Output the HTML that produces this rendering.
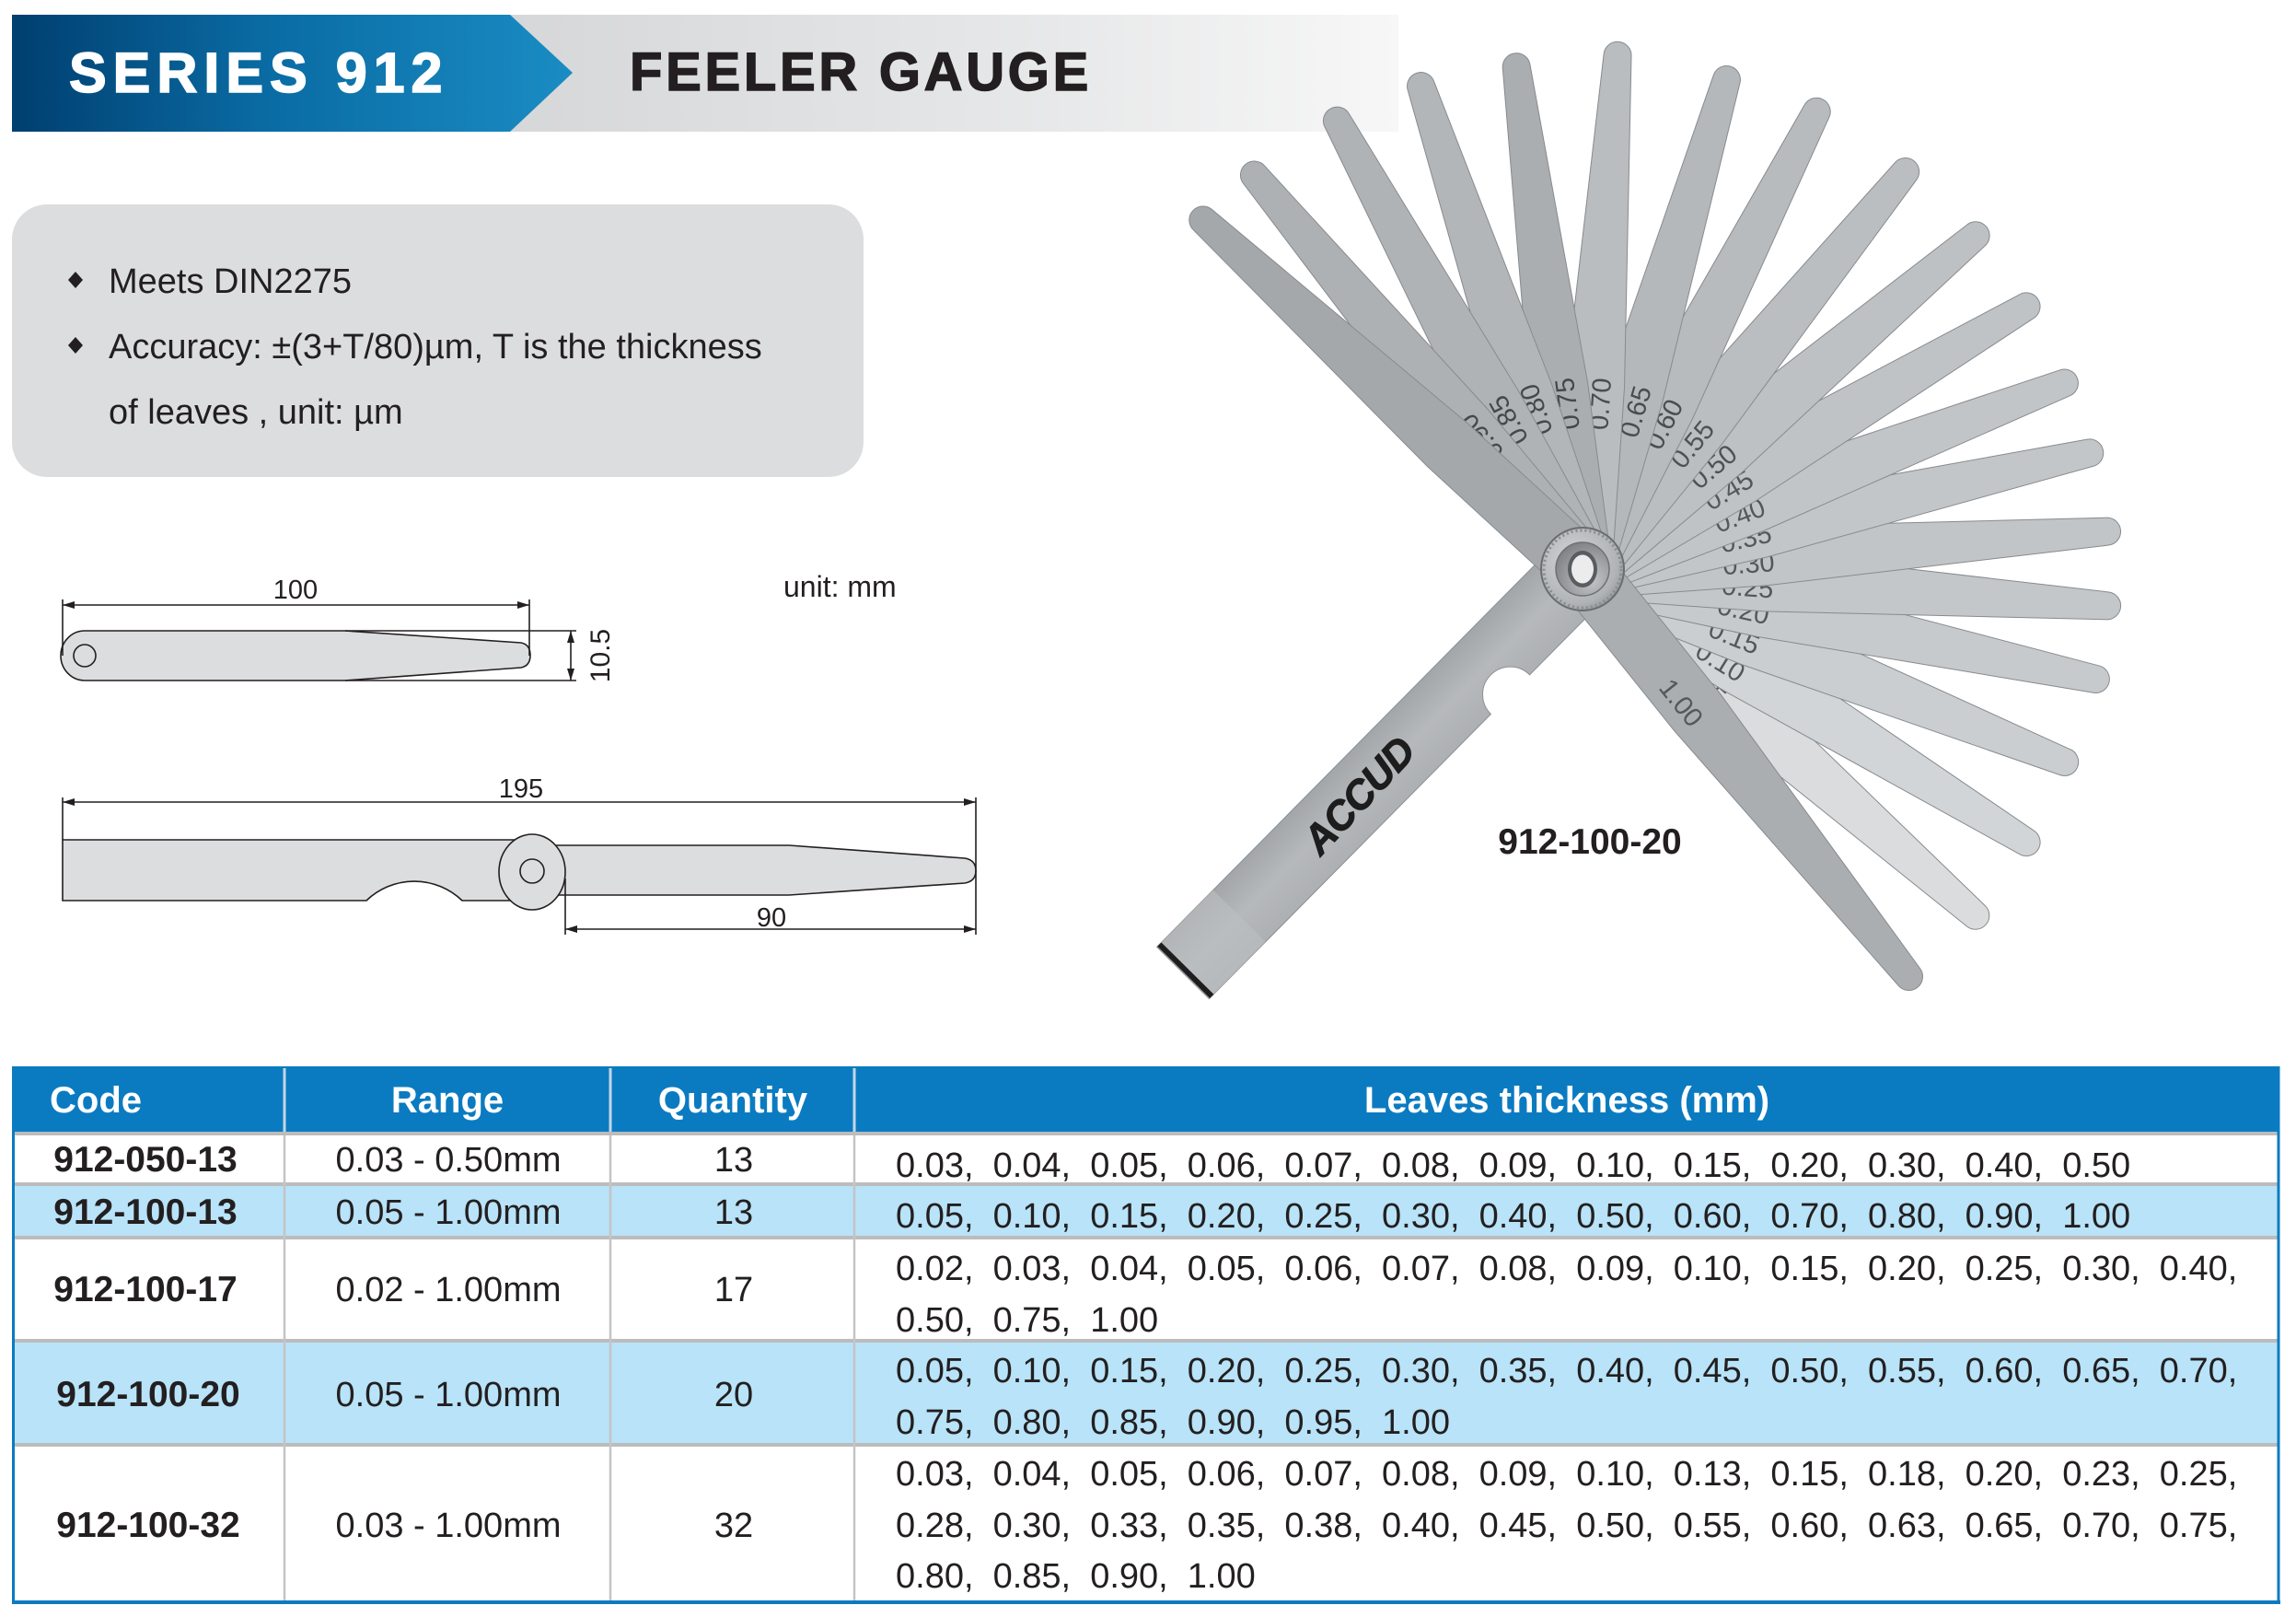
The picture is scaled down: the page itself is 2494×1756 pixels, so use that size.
<!DOCTYPE html>
<html><head><meta charset="utf-8"><style>
html,body{margin:0;padding:0;background:#fff;width:2494px;height:1756px;overflow:hidden}
svg{display:block}
text{font-family:"Liberation Sans",Arial,sans-serif}
</style></head><body>
<svg width="2494" height="1756" viewBox="0 0 2494 1756" xmlns="http://www.w3.org/2000/svg">
<defs>
<linearGradient id="gBlue" x1="13" y1="0" x2="622" y2="0" gradientUnits="userSpaceOnUse">
<stop offset="0" stop-color="#003f70"/><stop offset="0.45" stop-color="#0a6ba3"/><stop offset="1" stop-color="#1a8cc3"/></linearGradient>
<linearGradient id="gGray" x1="554" y1="0" x2="1519" y2="0" gradientUnits="userSpaceOnUse">
<stop offset="0" stop-color="#d6d7d9"/><stop offset="0.6" stop-color="#e7e8e9"/><stop offset="1" stop-color="#f7f7f7"/></linearGradient>
<linearGradient id="gHandle" x1="0" y1="-40" x2="0" y2="40" gradientUnits="userSpaceOnUse">
<stop offset="0" stop-color="#adb0b3"/><stop offset="0.5" stop-color="#b6b9bb"/><stop offset="1" stop-color="#a3a6a9"/></linearGradient>
<radialGradient id="gWash" cx="0.4" cy="0.4" r="0.7">
<stop offset="0" stop-color="#d4d6d8"/><stop offset="0.75" stop-color="#b0b3b6"/><stop offset="1" stop-color="#8a8d90"/></radialGradient>
<radialGradient id="gInner" cx="0.65" cy="0.7" r="0.8">
<stop offset="0" stop-color="#c4c6c8"/><stop offset="1" stop-color="#7a7d80"/></radialGradient>
</defs>

<!-- Header band -->
<rect x="554" y="16" width="965" height="127" fill="url(#gGray)"/>
<polygon points="13,16 554,16 622,79 554,143 13,143" fill="url(#gBlue)"/>
<text x="75" y="100" font-size="61" font-weight="bold" letter-spacing="7" fill="#ffffff" stroke="#ffffff" stroke-width="1.6">SERIES 912</text>
<text x="684" y="98" font-size="58" font-weight="bold" letter-spacing="3.7" fill="#231f20" stroke="#231f20" stroke-width="1.4">FEELER GAUGE</text>

<!-- Feature box -->
<rect x="13" y="222" width="925" height="296" rx="38" ry="38" fill="#dcdddf"/>
<polygon points="82,295 90,304 82,313 74,304" fill="#231f20"/>
<polygon points="82,366 90,375 82,384 74,375" fill="#231f20"/>
<text x="118" y="318" font-size="38" fill="#231f20">Meets DIN2275</text>
<text x="118" y="389" font-size="38" fill="#231f20">Accuracy: ±(3+T/80)µm, T is the thickness</text>
<text x="118" y="460" font-size="38" fill="#231f20">of leaves , unit: µm</text>

<!-- Drawing 1 -->
<g stroke="#231f20" stroke-width="1.6" fill="none">
<path d="M92,685 L375,685 L566,698 Q576,700 576,711.5 Q576,723 566,725 L375,739 L92,739 A26,27 0 0 1 92,685 Z" fill="#dcdddf"/>
<circle cx="92" cy="712" r="12"/>
<line x1="375" y1="685" x2="626" y2="685"/>
<line x1="375" y1="739" x2="626" y2="739"/>
<line x1="68" y1="651" x2="68" y2="712"/>
<line x1="575" y1="651" x2="575" y2="712"/>
<line x1="68" y1="657" x2="575" y2="657"/>
<line x1="620" y1="685" x2="620" y2="739"/>
</g>
<g fill="#231f20">
<path d="M68,657 L81,653 L81,661 Z"/><path d="M575,657 L562,653 L562,661 Z"/>
<path d="M620,685 L616,698 L624,698 Z"/><path d="M620,739 L616,726 L624,726 Z"/>
</g>
<text x="321" y="650" font-size="29" text-anchor="middle" fill="#231f20">100</text>
<text transform="translate(662,712) rotate(-90)" font-size="30" text-anchor="middle" fill="#231f20">10.5</text>
<text x="851" y="648" font-size="32" fill="#231f20">unit: mm</text>

<!-- Drawing 2 -->
<g stroke="#231f20" stroke-width="1.6" fill="none">
<path d="M68,912 L590,912 L590,978 L502,978 A75,75 0 0 0 398,978 L68,978 Z" fill="#dcdddf"/>
<path d="M590,918 L857,918 L1048,932 Q1060,934 1060,945.5 Q1060,957 1048,959 L857,972 L590,972 Z" fill="#dcdddf"/>
<ellipse cx="578" cy="947" rx="36" ry="41" fill="#dcdddf"/>
<circle cx="578" cy="946" r="13"/>
<line x1="68" y1="866" x2="68" y2="912"/>
<line x1="1060" y1="866" x2="1060" y2="1015"/>
<line x1="614" y1="954" x2="614" y2="1015"/>
<line x1="68" y1="871" x2="1060" y2="871"/>
<line x1="614" y1="1009" x2="1060" y2="1009"/>
</g>
<g fill="#231f20">
<path d="M68,871 L81,867 L81,875 Z"/><path d="M1060,871 L1047,867 L1047,875 Z"/>
<path d="M614,1009 L627,1005 L627,1013 Z"/><path d="M1060,1009 L1047,1005 L1047,1013 Z"/>
</g>
<text x="566" y="866" font-size="29" text-anchor="middle" fill="#231f20">195</text>
<text x="838" y="1006" font-size="29" text-anchor="middle" fill="#231f20">90</text>

<!-- Fan: handle -->
<g transform="translate(1719,618) rotate(134.7)">
<path d="M-40,-40 L122,-40 A30,30 0 0 0 182,-40 L617,-40 L617,40 L-40,40 Z" fill="url(#gHandle)" stroke="#8d9093" stroke-width="1"/>
<rect x="530" y="-40" width="82" height="80" fill="#bcbfc1" opacity="0.6"/>
<line x1="613" y1="-40" x2="613" y2="40" stroke="#1e1e1e" stroke-width="6"/>
</g>

<!-- Fan: leaves (19 -> 1, then 20) -->
<g stroke="#878b8e" stroke-width="1" font-size="29">
<g transform="translate(1719,618) rotate(41.4)"><path d="M0,-32L200,-32L569,-15A15,15 0 0 1 569,15L200,32L0,32A32,32 0 0 1 0,-32Z" fill="#dadcde"/><text x="152" y="17" fill="#55585b" stroke="none">0.05</text></g>
<g transform="translate(1719,618) rotate(31.6)"><path d="M0,-32L200,-32L566,-15A15,15 0 0 1 566,15L200,32L0,32A32,32 0 0 1 0,-32Z" fill="#d2d5d7"/><text x="152" y="17" fill="#55585b" stroke="none">0.10</text></g>
<g transform="translate(1719,618) rotate(21.8)"><path d="M0,-32L200,-32L564,-15A15,15 0 0 1 564,15L200,32L0,32A32,32 0 0 1 0,-32Z" fill="#cbced0"/><text x="152" y="17" fill="#55585b" stroke="none">0.15</text></g>
<g transform="translate(1719,618) rotate(12.1)"><path d="M0,-32L200,-32L570,-15A15,15 0 0 1 570,15L200,32L0,32A32,32 0 0 1 0,-32Z" fill="#c7cacc"/><text x="152" y="17" fill="#55585b" stroke="none">0.20</text></g>
<g transform="translate(1719,618) rotate(4.0)"><path d="M0,-32L200,-32L571,-15A15,15 0 0 1 571,15L200,32L0,32A32,32 0 0 1 0,-32Z" fill="#c4c7ca"/><text x="152" y="17" fill="#55585b" stroke="none">0.25</text></g>
<g transform="translate(1719,618) rotate(-4.1)"><path d="M0,-32L200,-32L571,-15A15,15 0 0 1 571,15L200,32L0,32A32,32 0 0 1 0,-32Z" fill="#c2c5c8"/><text x="152" y="17" fill="#55585b" stroke="none">0.30</text></g>
<g transform="translate(1719,618) rotate(-12.9)"><path d="M0,-32L200,-32L565,-15A15,15 0 0 1 565,15L200,32L0,32A32,32 0 0 1 0,-32Z" fill="#c3c6c9"/><text x="152" y="17" fill="#55585b" stroke="none">0.35</text></g>
<g transform="translate(1719,618) rotate(-21.1)"><path d="M0,-32L200,-32L561,-15A15,15 0 0 1 561,15L200,32L0,32A32,32 0 0 1 0,-32Z" fill="#c2c5c8"/><text x="152" y="17" fill="#55585b" stroke="none">0.40</text></g>
<g transform="translate(1719,618) rotate(-30.6)"><path d="M0,-32L200,-32L560,-15A15,15 0 0 1 560,15L200,32L0,32A32,32 0 0 1 0,-32Z" fill="#c0c3c6"/><text x="152" y="17" fill="#55585b" stroke="none">0.45</text></g>
<g transform="translate(1719,618) rotate(-40.3)"><path d="M0,-32L200,-32L560,-15A15,15 0 0 1 560,15L200,32L0,32A32,32 0 0 1 0,-32Z" fill="#bdc1c4"/><text x="152" y="17" fill="#4f5255" stroke="none">0.50</text></g>
<g transform="translate(1719,618) rotate(-50.9)"><path d="M0,-32L200,-32L556,-15A15,15 0 0 1 556,15L200,32L0,32A32,32 0 0 1 0,-32Z" fill="#babec1"/><text x="152" y="17" fill="#4f5255" stroke="none">0.55</text></g>
<g transform="translate(1719,618) rotate(-62.9)"><path d="M0,-32L200,-32L558,-15A15,15 0 0 1 558,15L200,32L0,32A32,32 0 0 1 0,-32Z" fill="#b7bbbe"/><text x="152" y="17" fill="#4a4d50" stroke="none">0.60</text></g>
<g transform="translate(1719,618) rotate(-73.6)"><path d="M0,-32L200,-32L554,-15A15,15 0 0 1 554,15L200,32L0,32A32,32 0 0 1 0,-32Z" fill="#b4b8bb"/><text x="152" y="17" fill="#4a4d50" stroke="none">0.65</text></g>
<g transform="translate(1719,618) rotate(-86.1)"><path d="M0,-32L200,-32L559,-15A15,15 0 0 1 559,15L200,32L0,32A32,32 0 0 1 0,-32Z" fill="#b9bdc0"/><text x="152" y="17" fill="#4a4d50" stroke="none">0.70</text></g>
<g transform="translate(1719,618) rotate(-97.5)"><path d="M0,-32L200,-32L550,-15A15,15 0 0 1 550,15L200,32L0,32A32,32 0 0 1 0,-32Z" fill="#aaaeb1"/><text x="152" y="17" fill="#45484b" stroke="none">0.75</text></g>
<g transform="translate(1719,618) rotate(-108.5)"><path d="M0,-32L200,-32L553,-15A15,15 0 0 1 553,15L200,32L0,32A32,32 0 0 1 0,-32Z" fill="#b2b6b9"/><text x="152" y="17" fill="#45484b" stroke="none">0.80</text></g>
<g transform="translate(1719,618) rotate(-118.7)"><path d="M0,-32L200,-32L555,-15A15,15 0 0 1 555,15L200,32L0,32A32,32 0 0 1 0,-32Z" fill="#afb3b6"/><text x="152" y="17" fill="#45484b" stroke="none">0.85</text></g>
<g transform="translate(1719,618) rotate(-129.8)"><path d="M0,-32L200,-32L557,-15A15,15 0 0 1 557,15L200,32L0,32A32,32 0 0 1 0,-32Z" fill="#adb1b4"/><text x="152" y="17" fill="#45484b" stroke="none">0.90</text></g>
<g transform="translate(1719,618) rotate(-137.4)"><path d="M0,-32L200,-32L560,-15A15,15 0 0 1 560,15L200,32L0,32A32,32 0 0 1 0,-32Z" fill="#a4a8ab"/></g>
<g transform="translate(1719,618) rotate(51.3)"><path d="M0,-32L200,-32L567,-15A15,15 0 0 1 567,15L200,32L0,32A32,32 0 0 1 0,-32Z" fill="#aaaeb1"/><text x="152" y="17" fill="#55585b" stroke="none">1.00</text></g>
</g>

<!-- Washer -->
<circle cx="1719" cy="618" r="45" fill="url(#gWash)" stroke="#6a6d70" stroke-width="2"/>
<circle cx="1719" cy="618" r="42" fill="none" stroke="#8a8d90" stroke-width="3" stroke-dasharray="2 3"/>
<circle cx="1719" cy="618" r="29" fill="url(#gInner)" stroke="#6f7275" stroke-width="1.5"/>
<ellipse cx="1719" cy="618" rx="16" ry="20" fill="#5a5d60"/>
<ellipse cx="1719" cy="618" rx="12" ry="15.5" fill="#ececec"/>

<text transform="translate(1476,864) rotate(-47)" y="15" font-size="44" font-weight="bold" font-style="italic" text-anchor="middle" letter-spacing="-1" fill="#1d1d1d" stroke="#1d1d1d" stroke-width="1">ACCUD</text>
<text x="1727" y="927" font-size="39" font-weight="bold" text-anchor="middle" fill="#231f20">912-100-20</text>

<!-- Table -->
<rect x="13" y="1158" width="2463" height="72" fill="#0b7bc1"/>
<rect x="13" y="1230" width="2463" height="56" fill="#ffffff"/>
<rect x="13" y="1286" width="2463" height="58" fill="#b8e3f8"/>
<rect x="13" y="1344" width="2463" height="112" fill="#ffffff"/>
<rect x="13" y="1456" width="2463" height="113" fill="#b8e3f8"/>
<rect x="13" y="1569" width="2463" height="170" fill="#ffffff"/>
<g stroke="#bcbcbc" stroke-width="4">
<line x1="13" y1="1231" x2="2476" y2="1231"/>
<line x1="13" y1="1286" x2="2476" y2="1286"/>
<line x1="13" y1="1344" x2="2476" y2="1344"/>
<line x1="13" y1="1456" x2="2476" y2="1456"/>
<line x1="13" y1="1569" x2="2476" y2="1569"/>
</g>
<g stroke="#c4d6e6" stroke-width="3">
<line x1="309" y1="1160" x2="309" y2="1229"/>
<line x1="663" y1="1160" x2="663" y2="1229"/>
<line x1="928" y1="1160" x2="928" y2="1229"/>
</g>
<g stroke="#c4c4c4" stroke-width="2.5">
<line x1="309" y1="1233" x2="309" y2="1739"/>
<line x1="663" y1="1233" x2="663" y2="1739"/>
<line x1="928" y1="1233" x2="928" y2="1739"/>
</g>
<g stroke="#0b7bc1" fill="none">
<line x1="14.5" y1="1158" x2="14.5" y2="1742" stroke-width="3"/>
<line x1="2475" y1="1158" x2="2475" y2="1742" stroke-width="3"/>
<line x1="13" y1="1740" x2="2477" y2="1740" stroke-width="4"/>
</g>

<g font-size="40" font-weight="bold" fill="#ffffff">
<text x="54" y="1208">Code</text>
<text x="486" y="1208" text-anchor="middle">Range</text>
<text x="796" y="1208" text-anchor="middle">Quantity</text>
<text x="1702" y="1208" text-anchor="middle">Leaves thickness (mm)</text>
</g>

<g font-size="39" font-weight="bold" fill="#231f20" text-anchor="middle">
<text x="158" y="1272">912-050-13</text>
<text x="158" y="1329">912-100-13</text>
<text x="158" y="1413">912-100-17</text>
<text x="161" y="1527">912-100-20</text>
<text x="161" y="1669">912-100-32</text>
</g>
<g font-size="38" fill="#231f20" text-anchor="middle">
<text x="487" y="1272">0.03 - 0.50mm</text>
<text x="487" y="1329">0.05 - 1.00mm</text>
<text x="487" y="1413">0.02 - 1.00mm</text>
<text x="487" y="1527">0.05 - 1.00mm</text>
<text x="487" y="1669">0.03 - 1.00mm</text>
<text x="797" y="1272">13</text>
<text x="797" y="1329">13</text>
<text x="797" y="1413">17</text>
<text x="797" y="1527">20</text>
<text x="797" y="1669">32</text>
</g>

<g font-size="38" fill="#231f20">
<text y="1278"><tspan x="973">0.03,</tspan><tspan x="1078.6">0.04,</tspan><tspan x="1184.2">0.05,</tspan><tspan x="1289.8">0.06,</tspan><tspan x="1395.4">0.07,</tspan><tspan x="1501">0.08,</tspan><tspan x="1606.6">0.09,</tspan><tspan x="1712.2">0.10,</tspan><tspan x="1817.8">0.15,</tspan><tspan x="1923.4">0.20,</tspan><tspan x="2029">0.30,</tspan><tspan x="2134.6">0.40,</tspan><tspan x="2240.2">0.50</tspan></text>
<text y="1333"><tspan x="973">0.05,</tspan><tspan x="1078.6">0.10,</tspan><tspan x="1184.2">0.15,</tspan><tspan x="1289.8">0.20,</tspan><tspan x="1395.4">0.25,</tspan><tspan x="1501">0.30,</tspan><tspan x="1606.6">0.40,</tspan><tspan x="1712.2">0.50,</tspan><tspan x="1817.8">0.60,</tspan><tspan x="1923.4">0.70,</tspan><tspan x="2029">0.80,</tspan><tspan x="2134.6">0.90,</tspan><tspan x="2240.2">1.00</tspan></text>
<text y="1390"><tspan x="973">0.02,</tspan><tspan x="1078.6">0.03,</tspan><tspan x="1184.2">0.04,</tspan><tspan x="1289.8">0.05,</tspan><tspan x="1395.4">0.06,</tspan><tspan x="1501">0.07,</tspan><tspan x="1606.6">0.08,</tspan><tspan x="1712.2">0.09,</tspan><tspan x="1817.8">0.10,</tspan><tspan x="1923.4">0.15,</tspan><tspan x="2029">0.20,</tspan><tspan x="2134.6">0.25,</tspan><tspan x="2240.2">0.30,</tspan><tspan x="2345.8">0.40,</tspan></text>
<text y="1446"><tspan x="973">0.50,</tspan><tspan x="1078.6">0.75,</tspan><tspan x="1184.2">1.00</tspan></text>
<text y="1501"><tspan x="973">0.05,</tspan><tspan x="1078.6">0.10,</tspan><tspan x="1184.2">0.15,</tspan><tspan x="1289.8">0.20,</tspan><tspan x="1395.4">0.25,</tspan><tspan x="1501">0.30,</tspan><tspan x="1606.6">0.35,</tspan><tspan x="1712.2">0.40,</tspan><tspan x="1817.8">0.45,</tspan><tspan x="1923.4">0.50,</tspan><tspan x="2029">0.55,</tspan><tspan x="2134.6">0.60,</tspan><tspan x="2240.2">0.65,</tspan><tspan x="2345.8">0.70,</tspan></text>
<text y="1557"><tspan x="973">0.75,</tspan><tspan x="1078.6">0.80,</tspan><tspan x="1184.2">0.85,</tspan><tspan x="1289.8">0.90,</tspan><tspan x="1395.4">0.95,</tspan><tspan x="1501">1.00</tspan></text>
<text y="1613"><tspan x="973">0.03,</tspan><tspan x="1078.6">0.04,</tspan><tspan x="1184.2">0.05,</tspan><tspan x="1289.8">0.06,</tspan><tspan x="1395.4">0.07,</tspan><tspan x="1501">0.08,</tspan><tspan x="1606.6">0.09,</tspan><tspan x="1712.2">0.10,</tspan><tspan x="1817.8">0.13,</tspan><tspan x="1923.4">0.15,</tspan><tspan x="2029">0.18,</tspan><tspan x="2134.6">0.20,</tspan><tspan x="2240.2">0.23,</tspan><tspan x="2345.8">0.25,</tspan></text>
<text y="1669"><tspan x="973">0.28,</tspan><tspan x="1078.6">0.30,</tspan><tspan x="1184.2">0.33,</tspan><tspan x="1289.8">0.35,</tspan><tspan x="1395.4">0.38,</tspan><tspan x="1501">0.40,</tspan><tspan x="1606.6">0.45,</tspan><tspan x="1712.2">0.50,</tspan><tspan x="1817.8">0.55,</tspan><tspan x="1923.4">0.60,</tspan><tspan x="2029">0.63,</tspan><tspan x="2134.6">0.65,</tspan><tspan x="2240.2">0.70,</tspan><tspan x="2345.8">0.75,</tspan></text>
<text y="1724"><tspan x="973">0.80,</tspan><tspan x="1078.6">0.85,</tspan><tspan x="1184.2">0.90,</tspan><tspan x="1289.8">1.00</tspan></text>
</g>
</svg>
</body></html>
